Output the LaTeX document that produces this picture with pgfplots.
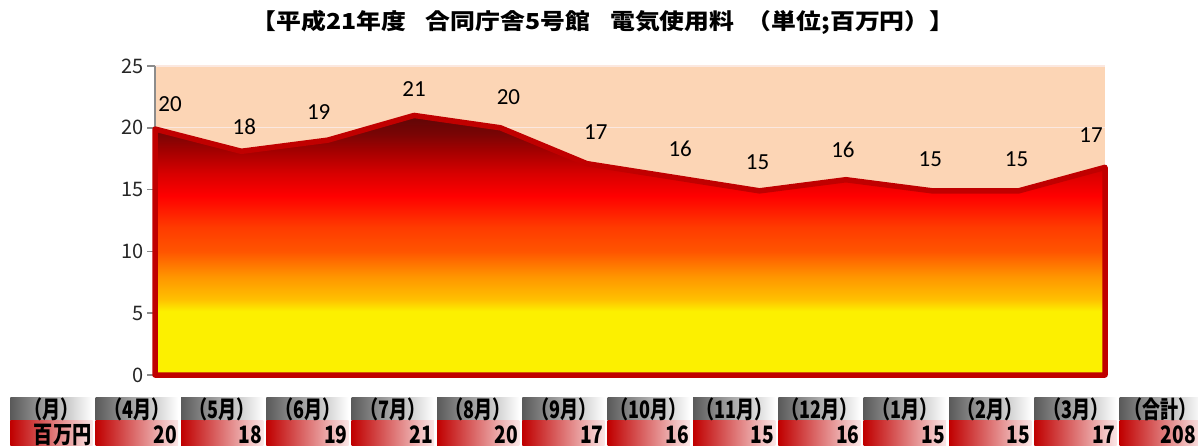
\documentclass[border=0pt]{standalone}
\usepackage{pgfplots}
\pgfplotsset{compat=1.18}
\usepackage{pgfplotstable}
\usepackage{fontspec}
\setmainfont{Carlito}
\newfontfamily\jp{Noto Sans CJK JP}

% colours
\definecolor{peach}{HTML}{FCD5B5}
\definecolor{gridpink}{HTML}{FBE8E0}
\definecolor{axisgrey}{HTML}{8C8C8C}
\definecolor{outlinered}{HTML}{C00000}
\definecolor{gY}{HTML}{FCF000}
\definecolor{gA}{HTML}{FFC000}
\definecolor{gB}{HTML}{FF9500}
\definecolor{gC}{HTML}{FF5500}
\definecolor{gD}{HTML}{FF3A00}
\definecolor{gE}{HTML}{FF0000}
\definecolor{gF}{HTML}{D80000}
\definecolor{gG}{HTML}{A50000}
\definecolor{gH}{HTML}{7A0505}
\definecolor{gI}{HTML}{5E0606}
\definecolor{hdrgrey}{HTML}{5A5A5A}
\definecolor{cellred}{HTML}{C00000}
\definecolor{cellpink}{HTML}{FBE6E6}

% yellow -> orange -> red -> dark red, bottom (0) to top of the area
\pgfdeclareverticalshading{elecfill}{100bp}{%
  color(0bp)=(gY); color(25bp)=(gY); color(37.3bp)=(gY);
  color(39.6bp)=(gA); color(44bp)=(gB); color(48.8bp)=(gC);
  color(53.6bp)=(gD); color(59.5bp)=(gE); color(63.8bp)=(gF);
  color(68.1bp)=(gG); color(71.4bp)=(gH); color(75bp)=(gI);
  color(100bp)=(gI)}

% monthly charge (million yen), April .. March; dx/dy place the value labels
\pgfplotstableread{
x  y     dx   dy
0  19.9  15   25
1  18.1  3    25
2  19.0  -9   28
3  21.0  0    26
4  20.0  8    31
5  17.1  9    32
6  16.0  7    28
7  14.9  -2   29
8  15.8  -3   30
9  14.9  -2   32
10 14.9  -2   32
11 16.8  -14  32
}\elecdata

\begin{document}
\begin{tikzpicture}
\path[use as bounding box] (0pt,0pt) rectangle (1198pt,-445pt);

% title
\node[font=\jp\bfseries\fontsize{22}{22}\selectfont, inner sep=0pt]
  at (603pt,-22pt) {\scalebox{1.13}[1]{【平成21年度\hspace{0.8em}合同庁舎5号館\hspace{0.8em}電気使用料\hspace{0.5em}（単位;百万円）】}};

\begin{axis}[
  at={(155pt,-375pt)}, anchor=south west,
  scale only axis, width=950pt, height=309pt,
  xmin=0, xmax=11, ymin=0, ymax=25,
  clip=false,
  axis background/.style={fill=peach},
  axis x line=none,
  axis y line*=left,
  y axis line style={draw=axisgrey, line width=1.6pt},
  ytick={0,5,...,25},
  xtick=\empty,
  tick align=outside,
  major tick length=8pt,
  ytick style={draw=axisgrey, line width=1.6pt},
  ymajorgrids,
  grid style={draw=gridpink, line width=1.2pt},
  /pgf/number format/assume math mode=true,
  yticklabel style={font=\jp\fontsize{20}{20}\selectfont, text=black!85, inner sep=3pt},
]
\addplot[draw=outlinered, line width=5.5pt, line join=round, shading=elecfill]
  table[x=x, y=y] {\elecdata} \closedcycle;

\addplot[draw=none, point meta=y,
  visualization depends on={\thisrow{dx} \as \ldx},
  visualization depends on={\thisrow{dy} \as \ldy},
  nodes near coords={\pgfmathprintnumber[fixed,precision=0]{\pgfplotspointmeta}},
  nodes near coords align=center,
  every node near coord/.append style={font=\fontsize{23}{23}\selectfont,
    text=black, inner sep=0pt, xshift=\ldx pt, yshift=\ldy pt}]
  table[x=x, y=y] {\elecdata};
\end{axis}

% month / value table below the chart
\foreach \lab/\val [count=\k from 0] in
  {月/百万円, 4月/20, 5月/18, 6月/19, 7月/21, 8月/20, 9月/17, 10月/16,
   11月/15, 12月/16, 1月/15, 2月/15, 3月/17, 合計/208}{
  \pgfmathsetmacro{\xa}{10.4+85.33*\k}
  \pgfmathsetmacro{\xb}{\xa+82.3}
  \pgfmathsetmacro{\xm}{(\xa+\xb)/2}
  \pgfmathsetmacro{\xr}{min(\xb-1,1196)}
  \shade[left color=hdrgrey, right color=white]
    (\xa pt,-397.3pt) rectangle (\xb pt,-420.7pt);
  \shade[left color=cellred, right color=cellpink]
    (\xa pt,-420.7pt) rectangle (\xb pt,-450pt);
  \node[inner sep=0pt, font=\jp\bfseries\fontsize{24}{24}\selectfont]
    at (\xm pt,-409.8pt) {\scalebox{0.75}[1]{（\lab）}};
  \node[inner sep=0pt, anchor=base east, font=\jp\bfseries\fontsize{24}{24}\selectfont]
    at (\xr pt,-443pt) {\scalebox{0.8}[1]{\val}};
}
\end{tikzpicture}
\end{document}
